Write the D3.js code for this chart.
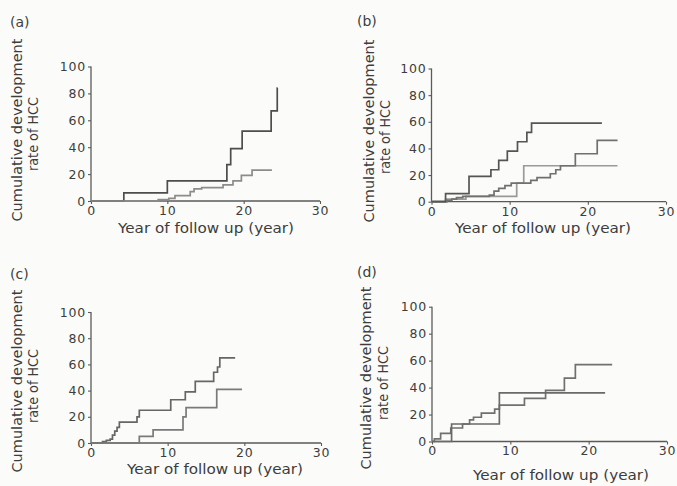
<!DOCTYPE html>
<html>
<head>
<meta charset="utf-8">
<script src="https://cdn.jsdelivr.net/npm/d3@7/dist/d3.min.js"></script>
<style>
  html, body { margin: 0; padding: 0; background: #fbfbf9; }
  svg { display: block; }
  text { font-family: "DejaVu Sans", "Liberation Sans", sans-serif; fill: #3d3d3d; }
</style>
</head>
<body>
<svg id="chart" width="677" height="486"></svg>
<script>
// ---------- data (year, cumulative %) ----------
const xTicks = [0, 10, 20, 30];
const yTicks = [0, 20, 40, 60, 80, 100];
const panelLabels = ["(a)", "(b)", "(c)", "(d)"];
const yTitleLines = ["Cumulative development", "rate of HCC"];
const xTitle = "Year of follow up (year)";

const a_upper = [[0,0],[4.3,6],[10,15],[17.8,27],[18.3,39],[19.8,52],[23.6,67],[24.4,84],[24.45,84]];
const a_lower = [[0,0],[8.8,1],[10.2,2],[11,4],[13,7],[13.5,9],[14.5,10],[17.3,12],[18.6,15],[19.7,19],[21.1,23],[23.7,23]];

const b_upper = [[0,0],[1.8,6],[4.8,19],[7.6,24],[8.6,31],[9.7,38],[11,45],[12.2,52],[12.8,59],[21.8,59]];
const b_middle = [[0,0],[2,1],[2.6,2],[3.2,3],[4,4],[7.4,5],[8,8],[8.6,10],[9.4,12],[10.2,14],[12.7,16],[13.5,18],[15.2,21],[15.9,24],[16.5,27],[18.4,36],[21.2,46],[23.8,46]];
const b_lower = [[0,0],[1.8,2],[4.4,4],[10.9,14],[11.8,27],[23.8,27]];

const c_upper = [[0,0],[1.5,1],[2,2],[2.5,3],[2.8,6],[3.1,9],[3.4,12],[3.7,16],[6,20],[6.3,25],[10.4,33],[12.3,39],[13.6,47],[16,54],[16.5,58],[16.8,65],[18.8,65]];
const c_lower = [[0,0],[6.3,5],[8.1,10],[12,20],[12.4,27],[16.4,41],[19.7,41]];

const d_upper = [[0,0],[0.3,2],[1.1,6],[2.4,10],[3.9,13],[4.8,16],[5.3,18],[6.3,21],[8.0,24],[8.6,27],[11.8,32],[14.5,38],[16.9,47],[18.3,57],[23,57]];
const d_lower = [[0,0],[2.5,13],[8.6,36],[22.1,36]];

// ---------- layout ----------
const panels = [
  { label: panelLabels[0], series: [{d: a_upper, c: "#4d4d4d"}, {d: a_lower, c: "#8c8c8c"}],
    x0: 91, x1: 320, y0: 201, y1: 66.5, lab: [10, 27], yt: [21.5, 37.5, 130, 134], xt: [206, 233] },
  { label: panelLabels[1], series: [{d: b_lower, c: "#9a9a9a"}, {d: b_middle, c: "#707070"}, {d: b_upper, c: "#555555"}],
    x0: 431.5, x1: 666, y0: 201.7, y1: 68.5, lab: [357, 26], yt: [374, 390, 131, 137], xt: [543, 233] },
  { label: panelLabels[2], series: [{d: c_upper, c: "#666666"}, {d: c_lower, c: "#7a7a7a"}],
    x0: 91, x1: 321, y0: 443, y1: 312, lab: [10, 279], yt: [22, 38, 381, 386], xt: [215, 474] },
  { label: panelLabels[3], series: [{d: d_upper, c: "#707070"}, {d: d_lower, c: "#6a6a6a"}],
    x0: 432, x1: 667, y0: 441.5, y1: 306.7, lab: [357, 277], yt: [371, 388, 378, 383], xt: [561, 480] }
];

const svg = d3.select("#chart");

panels.forEach(p => {
  const x = d3.scaleLinear().domain([0, 30]).range([p.x0, p.x1]);
  const y = d3.scaleLinear().domain([0, 100]).range([p.y0, p.y1]);
  const g = svg.append("g");

  // axes
  const gx = g.append("g").attr("transform", `translate(0,${p.y0})`)
    .call(d3.axisBottom(x).tickValues(xTicks).tickSize(3).tickPadding(2).tickFormat(d3.format("d")));
  const gy = g.append("g").attr("transform", `translate(${p.x0},0)`)
    .call(d3.axisLeft(y).tickValues(yTicks).tickSize(3).tickPadding(2).tickFormat(d3.format("d")));
  [gx, gy].forEach(ax => {
    ax.select(".domain").attr("stroke", "#5a5a5a").attr("stroke-width", 1.3);
    ax.selectAll(".tick line").attr("stroke", "#5a5a5a").attr("stroke-width", 1.1);
    ax.selectAll(".tick text").style("font-size", "12.5px").style("letter-spacing", "0.8px").attr("fill", "#454545");
  });
  gy.select(".domain").attr("d", `M0,${p.y0}V${p.y1}`);
  gx.select(".domain").attr("d", `M${p.x0},0H${p.x1}`);

  // step curves
  const line = d3.line().x(d => x(d[0])).y(d => y(d[1])).curve(d3.curveStepAfter);
  p.series.forEach(s => {
    g.append("path").attr("d", line(s.d)).attr("fill", "none")
      .attr("stroke", s.c).attr("stroke-width", 1.7);
  });

  // titles
  g.append("text").attr("x", p.lab[0]).attr("y", p.lab[1]).style("font-size", "14px").text(p.label);
  g.append("text").attr("transform", `translate(${p.yt[0]},${p.yt[2]}) rotate(-90)`)
    .attr("text-anchor", "middle").style("font-size", "14.5px")
    .attr("textLength", 183).attr("lengthAdjust", "spacingAndGlyphs").text(yTitleLines[0]);
  g.append("text").attr("transform", `translate(${p.yt[1]},${p.yt[3]}) rotate(-90)`)
    .attr("text-anchor", "middle").style("font-size", "14.5px")
    .attr("textLength", 74).attr("lengthAdjust", "spacingAndGlyphs").text(yTitleLines[1]);
  g.append("text").attr("x", p.xt[0]).attr("y", p.xt[1]).attr("text-anchor", "middle")
    .style("font-size", "14px").attr("textLength", 176).attr("lengthAdjust", "spacingAndGlyphs").text(xTitle);
});
</script>
</body>
</html>
